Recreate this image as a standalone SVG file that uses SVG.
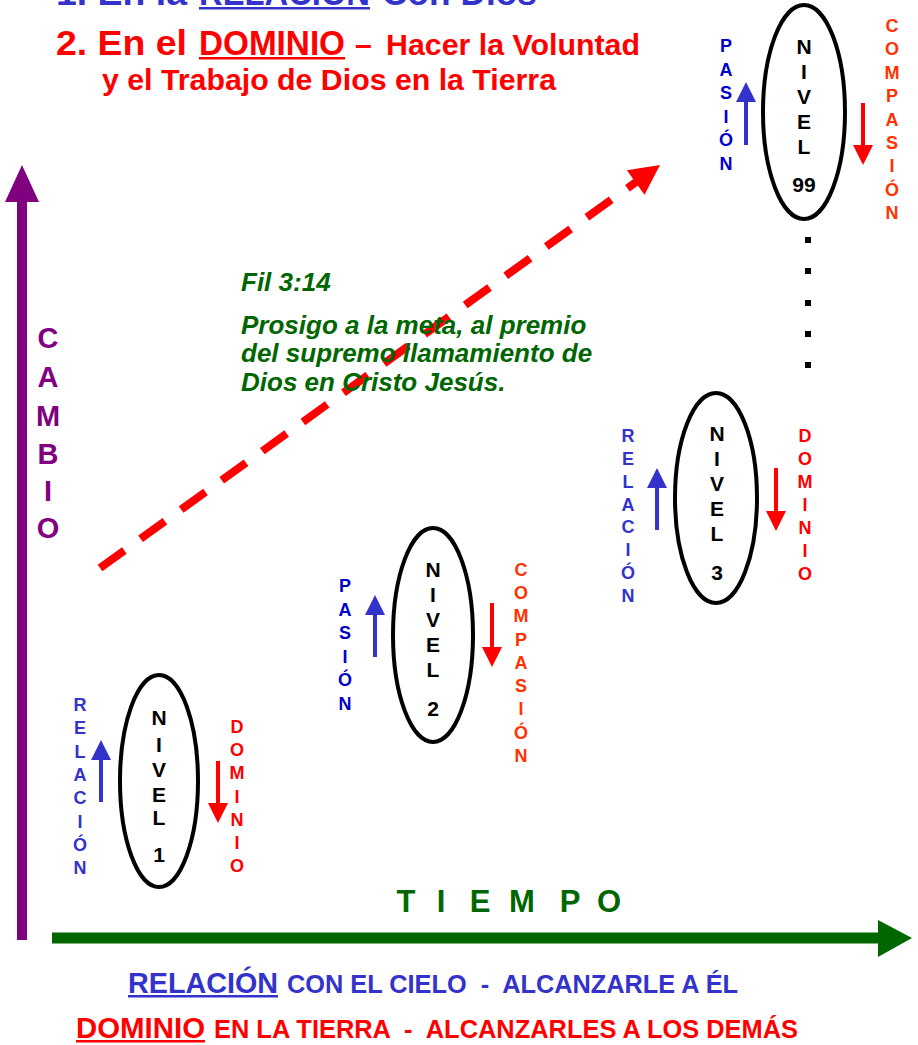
<svg xmlns="http://www.w3.org/2000/svg" width="918" height="1045" viewBox="0 0 918 1045">
<style>
text{font-family:"Liberation Sans",Arial,sans-serif;font-weight:bold}
.bl{fill:#3333CC}.db{fill:#0000CC}.rd{fill:#FF0000}.or{fill:#FF3300}.gr{fill:#006600}.pu{fill:#800080}.bk{fill:#000}
.ell{fill:none;stroke:#000;stroke-width:4}
.col{font-size:18px;text-anchor:middle}
.niv{font-size:21px;text-anchor:middle;fill:#000}
.ua{stroke:#3333CC;stroke-width:4;fill:none}
.da{stroke:#FF0000;stroke-width:4;fill:none}
.verse{font-size:26px;font-style:italic;fill:#006600}
.pre{white-space:pre}
</style>
<defs>
<marker id="mb" viewBox="0 0 20 20" refX="0" refY="10" markerWidth="20" markerHeight="20" markerUnits="userSpaceOnUse" orient="auto"><path d="M0,0 L20,10 L0,20 Z" fill="#3333CC"/></marker>
<marker id="mr" viewBox="0 0 20 20" refX="0" refY="10" markerWidth="20" markerHeight="20" markerUnits="userSpaceOnUse" orient="auto"><path d="M0,0 L20,10 L0,20 Z" fill="#FF0000"/></marker>
</defs>

<g id="title">
<text class="bl" x="56" y="5" font-size="35" textLength="131" lengthAdjust="spacingAndGlyphs">1. En la</text>
<text class="bl" x="199" y="5" font-size="35" textLength="171" lengthAdjust="spacingAndGlyphs">RELACIÓN</text>
<rect x="199" y="7" width="171" height="2.5" fill="#3333CC"/>
<text class="bl" x="382" y="5" font-size="35" textLength="155" lengthAdjust="spacingAndGlyphs">Con Dios</text>
<text class="rd" x="56" y="55" font-size="35" textLength="131" lengthAdjust="spacingAndGlyphs">2. En el</text>
<text class="rd" x="199" y="55" font-size="35" textLength="146" lengthAdjust="spacingAndGlyphs">DOMINIO</text>
<rect x="199" y="57" width="146" height="2.5" fill="#FF0000"/>
<text class="rd" x="355" y="55" font-size="30">–</text>
<text class="rd" x="386" y="55" font-size="30" textLength="254" lengthAdjust="spacingAndGlyphs">Hacer la Voluntad</text>
<text class="rd" x="102" y="90" font-size="30" textLength="454" lengthAdjust="spacingAndGlyphs">y el Trabajo de Dios en la Tierra</text>
</g>

<g id="axes">
<line x1="22" y1="940" x2="22" y2="200" stroke="#800080" stroke-width="10"/>
<polygon points="5,202 39,202 22,165" fill="#800080"/>
<line x1="52" y1="938" x2="880" y2="938" stroke="#006600" stroke-width="11"/>
<polygon points="878,920 878,957 912,938" fill="#006600"/>
</g>

<g id="cambio">
<text class="pu" font-size="29" text-anchor="middle"><tspan x="48" y="348">C</tspan><tspan x="48" y="387">A</tspan><tspan x="48" y="426">M</tspan><tspan x="48" y="464">B</tspan><tspan x="48" y="501">I</tspan><tspan x="48" y="538">O</tspan></text>
</g>

<g id="tiempo">
<text class="gr" font-size="31" text-anchor="middle"><tspan x="406" y="912">T</tspan><tspan x="441" y="912">I</tspan><tspan x="480" y="912">E</tspan><tspan x="522" y="912">M</tspan><tspan x="570" y="912">P</tspan><tspan x="609" y="912">O</tspan></text>
</g>

<g id="connectors">
<line x1="100" y1="568" x2="636" y2="182" stroke="#FF0000" stroke-width="8" stroke-dasharray="30 20"/>
<polygon points="660,165 644.5,194.7 626.9,170.3" fill="#FF0000"/>
</g>

<g id="verse">
<text class="verse" x="241" y="291">Fil 3:14</text>
<text class="verse" x="241" y="334">Prosigo a la meta, al premio</text>
<text class="verse" x="241" y="362">del supremo llamamiento de</text>
<text class="verse" x="241" y="391">Dios en Cristo Jesús.</text>
</g>

<g id="nivel1">
<ellipse class="ell" cx="159" cy="781" rx="39" ry="106"/>
<text class="niv"><tspan x="159" y="725">N</tspan><tspan x="159" y="752">I</tspan><tspan x="159" y="777">V</tspan><tspan x="159" y="802">E</tspan><tspan x="159" y="825">L</tspan><tspan x="159" y="862">1</tspan></text>
<text class="col bl"><tspan x="80" y="711">R</tspan><tspan x="80" y="734">E</tspan><tspan x="80" y="758">L</tspan><tspan x="80" y="781">A</tspan><tspan x="80" y="804">C</tspan><tspan x="80" y="828">I</tspan><tspan x="80" y="851">Ó</tspan><tspan x="80" y="874">N</tspan></text>
<text class="col rd"><tspan x="237" y="733">D</tspan><tspan x="237" y="756">O</tspan><tspan x="237" y="779">M</tspan><tspan x="237" y="803">I</tspan><tspan x="237" y="826">N</tspan><tspan x="237" y="849">I</tspan><tspan x="237" y="872">O</tspan></text>
<line class="ua" x1="101" y1="802" x2="101" y2="760" marker-end="url(#mb)"/>
<line class="da" x1="218" y1="761" x2="218" y2="803" marker-end="url(#mr)"/>
</g>

<g id="nivel2">
<ellipse class="ell" cx="433" cy="635" rx="40" ry="107"/>
<text class="niv"><tspan x="433" y="577">N</tspan><tspan x="433" y="602">I</tspan><tspan x="433" y="627">V</tspan><tspan x="433" y="652">E</tspan><tspan x="433" y="677">L</tspan><tspan x="433" y="716">2</tspan></text>
<text class="col db"><tspan x="345" y="592">P</tspan><tspan x="345" y="616">A</tspan><tspan x="345" y="639">S</tspan><tspan x="345" y="663">I</tspan><tspan x="345" y="686">Ó</tspan><tspan x="345" y="710">N</tspan></text>
<text class="col or"><tspan x="521" y="576">C</tspan><tspan x="521" y="599">O</tspan><tspan x="521" y="622">M</tspan><tspan x="521" y="646">P</tspan><tspan x="521" y="669">A</tspan><tspan x="521" y="692">S</tspan><tspan x="521" y="715">I</tspan><tspan x="521" y="739">Ó</tspan><tspan x="521" y="762">N</tspan></text>
<line class="ua" x1="375" y1="657" x2="375" y2="615" marker-end="url(#mb)"/>
<line class="da" x1="492" y1="603" x2="492" y2="647" marker-end="url(#mr)"/>
</g>

<g id="nivel3">
<ellipse class="ell" cx="716" cy="498" rx="41" ry="105"/>
<text class="niv"><tspan x="717" y="441">N</tspan><tspan x="717" y="466">I</tspan><tspan x="717" y="491">V</tspan><tspan x="717" y="516">E</tspan><tspan x="717" y="541">L</tspan><tspan x="717" y="580">3</tspan></text>
<text class="col bl"><tspan x="628" y="442">R</tspan><tspan x="628" y="465">E</tspan><tspan x="628" y="488">L</tspan><tspan x="628" y="511">A</tspan><tspan x="628" y="533">C</tspan><tspan x="628" y="556">I</tspan><tspan x="628" y="579">Ó</tspan><tspan x="628" y="602">N</tspan></text>
<text class="col rd"><tspan x="805" y="442">D</tspan><tspan x="805" y="465">O</tspan><tspan x="805" y="488">M</tspan><tspan x="805" y="511">I</tspan><tspan x="805" y="534">N</tspan><tspan x="805" y="557">I</tspan><tspan x="805" y="580">O</tspan></text>
<line class="ua" x1="657" y1="530" x2="657" y2="488" marker-end="url(#mb)"/>
<line class="da" x1="776" y1="468" x2="776" y2="511" marker-end="url(#mr)"/>
</g>

<g id="nivel99">
<ellipse class="ell" cx="804" cy="112" rx="41" ry="107"/>
<text class="niv"><tspan x="804" y="54">N</tspan><tspan x="804" y="79">I</tspan><tspan x="804" y="104">V</tspan><tspan x="804" y="129">E</tspan><tspan x="804" y="154">L</tspan><tspan x="804" y="192">99</tspan></text>
<text class="col db"><tspan x="726" y="52">P</tspan><tspan x="726" y="76">A</tspan><tspan x="726" y="99">S</tspan><tspan x="726" y="123">I</tspan><tspan x="726" y="146">Ó</tspan><tspan x="726" y="170">N</tspan></text>
<text class="col or"><tspan x="892" y="32">C</tspan><tspan x="892" y="55">O</tspan><tspan x="892" y="79">M</tspan><tspan x="892" y="102">P</tspan><tspan x="892" y="126">A</tspan><tspan x="892" y="149">S</tspan><tspan x="892" y="172">I</tspan><tspan x="892" y="196">Ó</tspan><tspan x="892" y="219">N</tspan></text>
<line class="ua" x1="746" y1="145" x2="746" y2="102" marker-end="url(#mb)"/>
<line class="da" x1="863" y1="103" x2="863" y2="145" marker-end="url(#mr)"/>
</g>

<g id="dots" fill="#000">
<rect x="805" y="237" width="6" height="6"/>
<rect x="805" y="268" width="6" height="6"/>
<rect x="805" y="300" width="6" height="6"/>
<rect x="805" y="331" width="6" height="6"/>
<rect x="805" y="362" width="6" height="6"/>
</g>

<g id="footer">
<text class="bl" x="128" y="993" font-size="29" textLength="150" lengthAdjust="spacingAndGlyphs">RELACIÓN</text>
<rect x="128" y="995" width="150" height="2.5" fill="#3333CC"/>
<text class="bl pre" xml:space="preserve" x="287" y="993" font-size="25" textLength="451" lengthAdjust="spacingAndGlyphs">CON EL CIELO  -  ALCANZARLE A ÉL</text>
<text class="rd" x="76" y="1038" font-size="29" textLength="129" lengthAdjust="spacingAndGlyphs">DOMINIO</text>
<rect x="76" y="1040" width="129" height="2.5" fill="#FF0000"/>
<text class="rd pre" xml:space="preserve" x="214" y="1038" font-size="25" textLength="584" lengthAdjust="spacingAndGlyphs">EN LA TIERRA  -  ALCANZARLES A LOS DEMÁS</text>
</g>
</svg>
